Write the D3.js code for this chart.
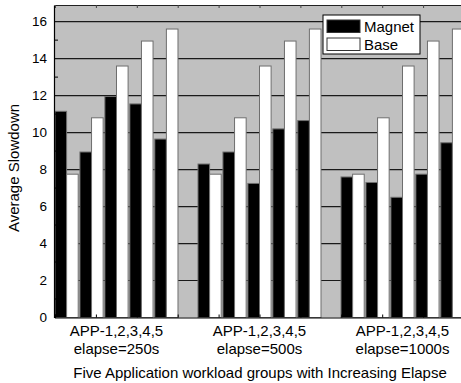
<!DOCTYPE html>
<html>
<head>
<meta charset="utf-8">
<script src="https://cdn.jsdelivr.net/npm/d3@7"></script>
<style>
  body { margin: 0; background: #fff; }
  svg text { font-family: Arial, "Liberation Sans", sans-serif; fill: #000; }
</style>
</head>
<body>
<div id="chart"></div>
<script>
//Data
var groups = ["elapse=250s", "elapse=500s", "elapse=1000s"];
var groupLine1 = "APP-1,2,3,4,5";
var apps = ["APP-1", "APP-2", "APP-3", "APP-4", "APP-5"];
var series = ["Magnet", "Base"];
var magnet = [
  [11.15, 8.95, 11.95, 11.55, 9.65],
  [8.3, 8.95, 7.25, 10.2, 10.65],
  [7.6, 7.3, 6.5, 7.75, 9.45]
];
var base = [
  [7.75, 10.8, 13.6, 14.95, 15.6],
  [7.75, 10.8, 13.6, 14.95, 15.6],
  [7.75, 10.8, 13.6, 14.95, 15.6]
];
var yTicks = [0, 2, 4, 6, 8, 10, 12, 14, 16];
var yMax = 16.9;
var xTitle = "Five Application workload groups with Increasing Elapse";
var yTitle = "Average Slowdown";

//Canvas
var W = 461, H = 383;
var plot = {left: 54, right: 465, top: 5, bottom: 317.5};

var svg = d3.select("#chart").append("svg")
  .attr("width", W)
  .attr("height", H);

//Scales
var x0 = d3.scaleBand().domain(groups).range([55, 464]).paddingInner(0.14).paddingOuter(0);
var x1 = d3.scaleBand().domain(apps).range([0, x0.bandwidth()]).paddingInner(0.07);
var x2 = d3.scaleBand().domain(series).range([0, x1.bandwidth()]);
var y = d3.scaleLinear().domain([0, yMax]).range([plot.bottom, plot.top]);

//Background
svg.append("rect")
  .attr("x", plot.left).attr("y", plot.top)
  .attr("width", plot.right - plot.left).attr("height", plot.bottom - plot.top)
  .attr("fill", "#c0c0c0");

//Grid lines
svg.append("g").selectAll("line")
  .data(yTicks.filter(function(d) { return d > 0; }))
  .enter().append("line")
    .attr("x1", plot.left).attr("x2", plot.right)
    .attr("y1", function(d) { return y(d); }).attr("y2", function(d) { return y(d); })
    .attr("stroke", "#1a1a1a").attr("stroke-width", 1.2);

//Bars
var rows = [];
groups.forEach(function(g, gi) {
  apps.forEach(function(a, ai) {
    rows.push({group: g, app: a, s: "Magnet", v: magnet[gi][ai]});
    rows.push({group: g, app: a, s: "Base", v: base[gi][ai]});
  });
});

svg.append("g").selectAll("rect")
  .data(rows)
  .enter().append("rect")
    .attr("x", function(d) { return x0(d.group) + x1(d.app) + x2(d.s); })
    .attr("y", function(d) { return y(d.v); })
    .attr("width", x2.bandwidth())
    .attr("height", function(d) { return y(0) - y(d.v); })
    .attr("fill", function(d) { return d.s == "Magnet" ? "#000" : "#fff"; })
    .attr("stroke", "#6e6e6e")
    .attr("stroke-width", 1);

//Axes
var yAxis = d3.axisLeft(y).tickValues(yTicks).tickSize(0).tickPadding(7);
var gy = svg.append("g")
  .attr("transform", "translate(" + plot.left + ",0)")
  .call(yAxis);
gy.select(".domain").attr("stroke", "#000").attr("stroke-width", 1.2);
gy.selectAll("text").attr("font-size", 13.5).attr("font-family", "Arial, 'Liberation Sans', sans-serif");

//minor ticks, inward
svg.append("g").selectAll("line")
  .data(d3.range(1, 17, 2))
  .enter().append("line")
    .attr("x1", plot.left).attr("x2", plot.left + 4)
    .attr("y1", function(d) { return y(d); }).attr("y2", function(d) { return y(d); })
    .attr("stroke", "#000");

//top and bottom ticks
var xt = d3.scaleLinear().domain([0, 10]).range([55, 464]);
svg.append("g")
  .attr("transform", "translate(0," + plot.top + ")")
  .call(d3.axisBottom(xt).ticks(10).tickSize(3).tickFormat(""))
  .call(function(g) { g.select(".domain").attr("stroke", "#222"); g.selectAll("line").attr("stroke", "#444"); });
svg.append("g")
  .attr("transform", "translate(0," + plot.bottom + ")")
  .call(d3.axisTop(xt).ticks(10).tickSize(3).tickFormat(""))
  .call(function(g) { g.select(".domain").attr("stroke", "#000").attr("stroke-width", 1.2); });

//Group labels
var gl = svg.append("g").selectAll("g")
  .data(groups)
  .enter().append("g")
    .attr("transform", function(d) { return "translate(" + (x0(d) + x0.bandwidth() / 2) + ",0)"; });
gl.append("text")
  .attr("y", 336).attr("text-anchor", "middle").attr("font-size", 15)
  .text(groupLine1);
gl.append("text")
  .attr("y", 354).attr("text-anchor", "middle").attr("font-size", 15)
  .text(function(d) { return d; });

//Axis titles
svg.append("text")
  .attr("x", 260).attr("y", 378)
  .attr("text-anchor", "middle").attr("font-size", 15)
  .text(xTitle);
svg.append("text")
  .attr("transform", "translate(19,168) rotate(-90)")
  .attr("text-anchor", "middle").attr("font-size", 15)
  .text(yTitle);

//Legend
var lg = svg.append("g").attr("transform", "translate(323,15)");
lg.append("rect").attr("width", 97).attr("height", 39)
  .attr("fill", "#fff").attr("stroke", "#000").attr("stroke-width", 1);
lg.selectAll(".sw")
  .data(series)
  .enter().append("rect")
    .attr("class", "sw")
    .attr("x", 4).attr("y", function(d, i) { return 5 + i * 18; })
    .attr("width", 33).attr("height", 12.5)
    .attr("fill", function(d) { return d == "Magnet" ? "#000" : "#fff"; })
    .attr("stroke", "#333");
lg.selectAll(".lt")
  .data(series)
  .enter().append("text")
    .attr("class", "lt")
    .attr("x", 41).attr("y", function(d, i) { return 17 + i * 18; })
    .attr("font-size", 15)
    .text(function(d) { return d; });
</script>
</body>
</html>
